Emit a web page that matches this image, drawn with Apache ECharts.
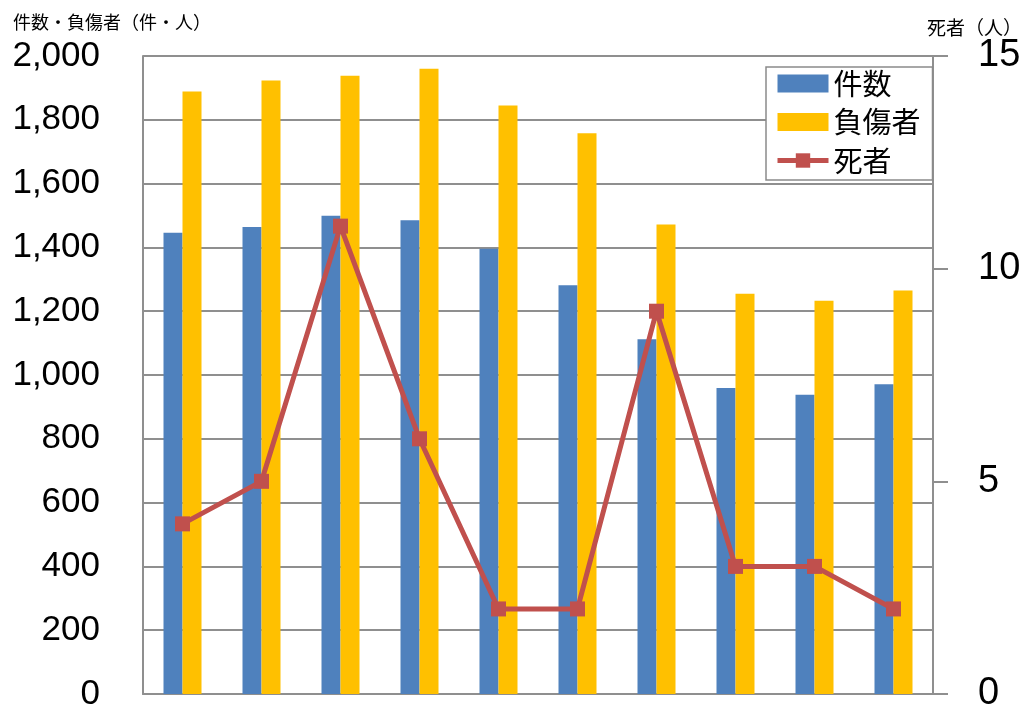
<!DOCTYPE html>
<html>
<head>
<meta charset="utf-8">
<script src="https://cdn.jsdelivr.net/npm/echarts@6/dist/echarts.min.js"></script>
<style>
html,body{margin:0;padding:0;background:#fff;overflow:hidden;}
#chart{width:1028px;height:713px;}
</style>
</head>
<body>
<div id="chart"></div>
<script>
var categories = ['1', '2', '3', '4', '5', '6', '7', '8', '9', '10'];
var kensu = [1446, 1464, 1499, 1485, 1396, 1281, 1112, 959, 938, 971];
var fushosha = [1889, 1923, 1938, 1960, 1845, 1758, 1472, 1255, 1233, 1265];
var shisha = [4, 5, 11, 6, 2, 2, 9, 3, 3, 2];
var seriesNames = ['件数', '負傷者', '死者'];
var leftTitle = '件数・負傷者（件・人）';
var rightTitle = '死者（人）';

var numFont = '"Liberation Sans", "Noto Sans CJK JP", sans-serif';
var jpFont = '"Noto Sans CJK JP", sans-serif';
var gridGray = '#8f8f8f';

var chart = echarts.init(document.getElementById('chart'), null, {renderer: 'canvas'});
chart.setOption({
  animation: false,
  backgroundColor: '#ffffff',
  title: [
    {text: leftTitle, left: 13, top: 13, padding: 0,
     textStyle: {fontFamily: jpFont, fontSize: 18, fontWeight: 'normal', color: '#000'}},
    {text: rightTitle, left: 927, top: 18, padding: 0,
     textStyle: {fontFamily: jpFont, fontSize: 19, fontWeight: 'normal', color: '#000'}}
  ],
  legend: {
    orient: 'vertical',
    left: 766,
    top: 67,
    padding: [2, 12, 5, 9],
    itemWidth: 51,
    itemHeight: 18,
    itemGap: 9.5,
    borderColor: '#8a8a8a',
    borderWidth: 1.5,
    backgroundColor: '#fff',
    textStyle: {fontFamily: jpFont, fontSize: 29, color: '#000'},
    data: [
      {name: seriesNames[0], icon: 'rect'},
      {name: seriesNames[1], icon: 'rect'},
      {name: seriesNames[2], lineStyle: {width: 5}}
    ]
  },
  grid: {left: 143, right: 95, top: 56, height: 642, containLabel: false},
  xAxis: {
    type: 'category',
    data: categories,
    axisLine: {show: true, lineStyle: {color: gridGray, width: 2}},
    axisTick: {show: false},
    axisLabel: {show: false},
    splitLine: {show: false}
  },
  yAxis: [
    {
      type: 'value', min: 0, max: 2000, interval: 200, position: 'left',
      axisLine: {show: true, lineStyle: {color: gridGray, width: 2}},
      axisTick: {show: false},
      axisLabel: {
        margin: 43, fontFamily: numFont, fontSize: 35, color: '#000',
        formatter: function (v) { return v.toLocaleString('en-US'); }
      },
      splitLine: {show: true, lineStyle: {color: gridGray, width: 2}}
    },
    {
      type: 'value', min: 0, max: 15, interval: 5, position: 'right',
      axisLine: {show: true, lineStyle: {color: gridGray, width: 2}},
      axisTick: {show: true, inside: false, length: 15, lineStyle: {color: gridGray, width: 2}},
      axisLabel: {margin: 45, fontFamily: numFont, fontSize: 38, color: '#000'},
      splitLine: {show: false}
    }
  ],
  series: [
    {
      name: seriesNames[0], type: 'bar', data: kensu, yAxisIndex: 0,
      barWidth: 19, barGap: '0%',
      itemStyle: {color: '#4F81BD'}
    },
    {
      name: seriesNames[1], type: 'bar', data: fushosha, yAxisIndex: 0,
      barWidth: 19, barGap: '0%',
      itemStyle: {color: '#FFC000'}
    },
    {
      name: seriesNames[2], type: 'line', data: shisha, yAxisIndex: 1,
      symbol: 'rect', symbolSize: 15, z: 5,
      lineStyle: {color: '#C0504D', width: 5},
      itemStyle: {color: '#C0504D'}
    }
  ]
});
</script>
</body>
</html>
